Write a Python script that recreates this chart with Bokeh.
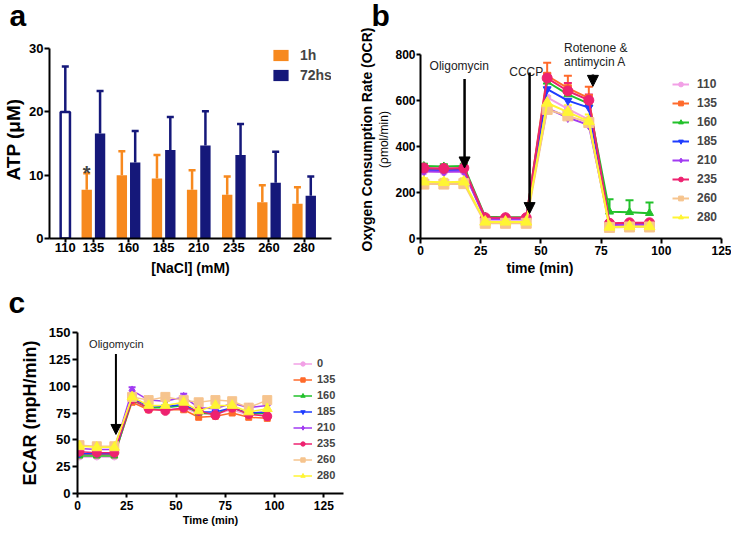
from bokeh.plotting import figure
from bokeh.models import (Range1d, FixedTicker, Legend, LegendItem, Title,
                          Whisker, TeeHead, Arrow, NormalHead, Label, ColumnDataSource)
from bokeh.layouts import column, row
from bokeh.embed import file_html
from bokeh.resources import INLINE

FONT = "Liberation Sans"

# ---------------- Panel a data ----------------
nacl = ["110", "135", "160", "185", "210", "235", "260", "280"]
atp_ctrl = [20.0]
atp_ctrl_err = [7.2]
atp_1h = [7.7, 10.0, 9.5, 7.7, 6.9, 5.75, 5.5]
atp_1h_err = [2.6, 3.8, 3.7, 3.1, 2.9, 2.65, 2.6]
atp_72h = [16.6, 12.0, 14.0, 14.7, 13.2, 8.8, 6.75]
atp_72h_err = [6.7, 5.0, 5.2, 5.4, 4.9, 4.9, 3.05]
star_group = "135"

# ---------------- Panel b data (OCR) ----------------
time_b = [1.4, 9.7, 18.0, 26.9, 35.3, 43.9, 52.6, 61.2, 69.9, 78.5, 86.8, 95.1]
ocr_110 = [290, 288, 290, 82, 82, 82, 612, 562, 516, 58, 60, 60]
ocr_135 = [302, 300, 302, 88, 88, 88, 706, 652, 609, 62, 64, 64]
ocr_160 = [314, 312, 314, 94, 92, 92, 680, 625, 585, 116, 114, 110]
ocr_185 = [296, 295, 297, 86, 86, 86, 648, 598, 568, 60, 62, 62]
ocr_210 = [292, 290, 292, 84, 84, 84, 565, 525, 492, 58, 60, 60]
ocr_235 = [306, 304, 306, 90, 90, 90, 696, 640, 600, 66, 68, 68]
ocr_260 = [236, 236, 238, 66, 66, 66, 560, 532, 503, 48, 50, 50]
ocr_280 = [246, 244, 246, 72, 72, 72, 588, 548, 508, 50, 52, 52]
ocr_err_135 = [10, 10, 10, 5, 5, 5, 57, 54, 49, 6, 6, 6]
ocr_err_160 = [10, 10, 10, 5, 5, 5, 25, 25, 25, 54, 52, 46]
ocr_err_235 = [10, 10, 10, 5, 5, 5, 20, 35, 25, 6, 6, 6]
ocr_err_280 = [15, 15, 15, 5, 5, 5, 30, 30, 30, 5, 5, 5]

# ---------------- Panel c data (ECAR) ----------------
time_c = [1.0, 9.8, 18.7, 27.7, 36.1, 44.6, 53.9, 61.5, 70.0, 78.5, 86.9, 96.3]
ecar_0 = [34, 34, 34, 87, 78, 78, 80, 74, 74, 78, 73, 74]
ecar_135 = [36, 36, 36, 85, 78, 78, 78, 71, 72, 75, 71, 70]
ecar_160 = [35, 35, 35, 87, 80, 80, 82, 75, 74, 80, 74, 75]
ecar_185 = [37, 37, 37, 88, 82, 81, 83, 76, 76, 80, 75, 76]
ecar_210 = [42, 41, 41, 96, 87, 86, 90, 80, 79, 84, 80, 82]
ecar_235 = [39, 38, 38, 88, 79, 77, 80, 77, 73, 80, 74, 72]
ecar_260 = [45, 44, 44, 90, 87, 90, 87, 85, 87, 86, 80, 87]
ecar_280 = [44, 43, 43, 90, 82, 82, 85, 77, 82, 82, 76, 79]
ecar_err_210 = [2, 2, 2, 3, 3, 3, 3, 3, 3, 3, 3, 3]
ecar_err_260 = [2, 2, 2, 3, 3, 3, 3, 3, 3, 3, 3, 3]

# ---------------- styles ----------------
ORANGE = "#F7891E"
NAVY = "#15187A"
series_style = {
    "110": ("#F2A0E6", "circle", 7),
    "135": ("#FF6A2B", "square", 7),
    "160": ("#22C12B", "triangle", 8),
    "185": ("#1E3CFF", "inverted_triangle", 8),
    "210": ("#A13BF2", "diamond", 10),
    "235": ("#EE2270", "circle", 10),
    "260": ("#F6C48E", "square", 10),
    "280": ("#FFF533", "triangle", 11),
}


def style_axis(ax, tick_size, label_size, label_style="bold"):
    ax.axis_line_width = 2
    ax.axis_line_color = "black"
    ax.major_tick_line_width = 2
    ax.major_tick_line_color = "black"
    ax.major_tick_out = 5
    ax.major_tick_in = 0
    ax.minor_tick_out = 0
    ax.minor_tick_line_color = None
    ax.major_label_text_font = FONT
    ax.major_label_text_font_style = "bold"
    ax.major_label_text_font_size = tick_size
    ax.major_label_text_color = "black"
    ax.major_label_standoff = 2
    ax.axis_label_text_font = FONT
    ax.axis_label_text_font_style = label_style
    ax.axis_label_text_font_size = label_size
    ax.axis_label_text_color = "black"
    ax.axis_label_standoff = 2


def spacer(size):
    return Title(text=" ", text_font=FONT, text_font_size="1px", standoff=size - 1)


def base_fig(fw, fh, xr, yr, l, r, t, b, letter, letter_offset, letter_standoff):
    p = figure(frame_width=fw, frame_height=fh, x_range=Range1d(*xr), y_range=Range1d(*yr),
               output_backend="svg", toolbar_location=None,
               min_border_left=l, min_border_right=r, min_border_top=t, min_border_bottom=b)
    p.outline_line_color = None
    p.xgrid.grid_line_color = None
    p.ygrid.grid_line_color = None
    p.background_fill_color = "white"
    p.border_fill_color = "white"
    p.title.text = letter
    p.title.align = "left"
    p.title.offset = letter_offset
    p.title.vertical_align = "top"
    p.title.standoff = letter_standoff
    p.title.text_font = FONT
    p.title.text_font_style = "bold"
    p.title.text_font_size = "30px"
    p.title.text_color = "black"
    return p


# ================= Panel a =================
pa = base_fig(282, 198, (-0.25, 7.78), (0, 31.3), 48, 25, 40, 42, "a", -40, -11)
pa.add_layout(spacer(10), "above")
ctrl_pos = 0.2
grp_pos = list(range(1, len(nacl)))
off = 0.19
bw = 0.295

x1h = [g - off for g in grp_pos]
x72 = [g + off for g in grp_pos]

src_ctrl = ColumnDataSource(dict(x=[ctrl_pos], top=atp_ctrl,
                                 hi=[v + e for v, e in zip(atp_ctrl, atp_ctrl_err)]))
src_1h = ColumnDataSource(dict(x=x1h, top=atp_1h,
                               hi=[v + e for v, e in zip(atp_1h, atp_1h_err)]))
src_72 = ColumnDataSource(dict(x=x72, top=atp_72h,
                               hi=[v + e for v, e in zip(atp_72h, atp_72h_err)]))

for src, col in ((src_ctrl, NAVY), (src_1h, ORANGE), (src_72, NAVY)):
    pa.add_layout(Whisker(source=src, base="x", upper="hi", lower="top", dimension="height",
                          line_color=col, line_width=2.5,
                          upper_head=TeeHead(size=7, line_color=col, line_width=2.5),
                          lower_head=None))

pa.vbar(x="x", top="top", width=bw - 0.03, source=src_ctrl, fill_color="white",
        line_color=NAVY, line_width=2.5)
b1 = pa.vbar(x="x", top="top", width=bw, source=src_1h, fill_color=ORANGE, line_color=None)
b72 = pa.vbar(x="x", top="top", width=bw, source=src_72, fill_color=NAVY, line_color=None)

pa.xaxis.ticker = FixedTicker(ticks=[ctrl_pos] + grp_pos)
pa.xaxis.major_label_overrides = {p_: lab for p_, lab in zip([ctrl_pos] + grp_pos, nacl)}
pa.yaxis.ticker = FixedTicker(ticks=[0, 10, 20, 30])
pa.yaxis.bounds = (0, 30)
style_axis(pa.xaxis[0], "13px", "14px")
style_axis(pa.yaxis[0], "13px", "19px")
pa.xaxis.axis_label = "[NaCl] (mM)"
pa.xaxis.major_tick_out = 4
pa.xaxis.major_label_standoff = 0
pa.xaxis.axis_label_standoff = 5
pa.yaxis.axis_label = "ATP (\u03bcM)"
pa.yaxis.major_label_standoff = 1
pa.yaxis.axis_label_standoff = 2

star_x = x1h[nacl.index(star_group) - 1]
pa.add_layout(Label(x=star_x, y=10.4, text="*", text_align="center", text_baseline="alphabetic",
                    text_font=FONT, text_font_style="bold", text_font_size="20px"))

lega = Legend(items=[LegendItem(label="1h", renderers=[b1]), LegendItem(label="72hs", renderers=[b72])],
              location=(222, 155), glyph_width=19, glyph_height=14, spacing=4, label_standoff=10,
              padding=0, margin=0, border_line_color=None, background_fill_alpha=0,
              label_text_font=FONT, label_text_font_style="bold", label_text_font_size="14px",
              label_height=14)
pa.add_layout(lega)

# ================= Panel b =================
pb = base_fig(301, 198, (0, 125), (0, 859), 54, 10, 40, 42, "b", -49, -11)
pb.add_layout(spacer(10), "above")

ocr = {"110": ocr_110, "135": ocr_135, "160": ocr_160, "185": ocr_185,
       "210": ocr_210, "235": ocr_235, "260": ocr_260, "280": ocr_280}
ocr_err = {"135": ocr_err_135, "160": ocr_err_160, "235": ocr_err_235, "280": ocr_err_280}

items_b = []
for key in nacl:
    col, mk, sz = series_style[key]
    ys = ocr[key]
    if key in ocr_err:
        es = ColumnDataSource(dict(x=time_b, y=ys, hi=[v + e for v, e in zip(ys, ocr_err[key])]))
        pb.add_layout(Whisker(source=es, base="x", upper="hi", lower="y", dimension="height",
                              line_color=col, line_width=2,
                              upper_head=TeeHead(size=8, line_color=col, line_width=2),
                              lower_head=None))
    ln = pb.line(time_b, ys, line_color=col, line_width=2)
    sc = pb.scatter(time_b, ys, marker=mk, size=sz, fill_color=col, line_color=col)
    items_b.append(LegendItem(label=key, renderers=[ln, sc]))

pb.xaxis.ticker = FixedTicker(ticks=[0, 25, 50, 75, 100, 125])
pb.yaxis.ticker = FixedTicker(ticks=[0, 200, 400, 600, 800])
pb.yaxis.bounds = (0, 800)
style_axis(pb.xaxis[0], "12px", "14px")
style_axis(pb.yaxis[0], "12px", "12px", label_style="normal")
pb.yaxis.major_tick_out = 4
pb.yaxis.major_label_standoff = 1
pb.yaxis.axis_label = "(\u03c1mol/min)"
pb.yaxis.axis_label_standoff = 1
pb.add_layout(Title(text="Oxygen Consumption Rate (OCR)", align="center", standoff=0,
                    text_font=FONT, text_font_style="bold", text_font_size="14px",
                    text_color="black"), "left")
pb.add_layout(Title(text="time (min)", align="left", offset=86, standoff=0, text_font=FONT,
                    text_font_style="bold", text_font_size="14px", text_color="black"), "below")

ann_font = dict(text_font=FONT, text_font_size="12px", text_color="#222222")
pb.add_layout(Label(x=16.1, y=749, text="Oligomycin", text_align="center", text_baseline="middle", **ann_font))
pb.add_layout(Label(x=43.9, y=724, text="CCCP", text_align="center", text_baseline="middle", **ann_font))
pb.add_layout(Label(x=59.6, y=827, text="Rotenone &", text_align="left", text_baseline="middle", **ann_font))
pb.add_layout(Label(x=59.6, y=764, text="antimycin A", text_align="left", text_baseline="middle", **ann_font))

for xs, y0, y1 in ((18.3, 692, 306), (45.3, 720, 108), (71.6, 712, 660)):
    pb.add_layout(Arrow(end=NormalHead(size=11, fill_color="black", line_color="black"),
                        x_start=xs, y_start=y0, x_end=xs, y_end=y1,
                        line_color="black", line_width=2.5))

legb = Legend(items=items_b, location=(252, 14), glyph_width=17, glyph_height=12, spacing=5,
              label_standoff=8, padding=0, margin=0, border_line_color=None, background_fill_alpha=0,
              label_text_font=FONT, label_text_font_style="bold", label_text_font_size="12px",
              label_height=12)
pb.add_layout(legb)

# ================= Panel c =================
pc = base_fig(266, 161, (0, 135), (0, 150), 77, 22, 52, 35, "c", -69, -11)
pc.add_layout(spacer(15), "above")
ecar_labels = ["0"] + nacl[1:]
ecar = [ecar_0, ecar_135, ecar_160, ecar_185, ecar_210, ecar_235, ecar_260, ecar_280]
ecar_err = {"210": ecar_err_210, "260": ecar_err_260}

items_c = []
for key, lab, ys in zip(nacl, ecar_labels, ecar):
    col, mk, sz = series_style[key]
    if key in ecar_err:
        es = ColumnDataSource(dict(x=time_c, y=ys, hi=[v + e for v, e in zip(ys, ecar_err[key])]))
        pc.add_layout(Whisker(source=es, base="x", upper="hi", lower="y", dimension="height",
                              line_color=col, line_width=2,
                              upper_head=TeeHead(size=7, line_color=col, line_width=2),
                              lower_head=None))
    ln = pc.line(time_c, ys, line_color=col, line_width=1.5)
    sc = pc.scatter(time_c, ys, marker=mk, size=sz - 1, fill_color=col, line_color=col)
    items_c.append(LegendItem(label=lab, renderers=[ln, sc]))

pc.xaxis.ticker = FixedTicker(ticks=[0, 25, 50, 75, 100, 125])
pc.yaxis.ticker = FixedTicker(ticks=[0, 25, 50, 75, 100, 125, 150])
style_axis(pc.xaxis[0], "12px", "11px")
style_axis(pc.yaxis[0], "13px", "18px")
pc.xaxis.major_tick_out = 4
pc.xaxis.major_label_standoff = 3
pc.xaxis.axis_label = "Time (min)"
pc.xaxis.axis_label_standoff = 1
pc.yaxis.axis_label = "ECAR (mpH/min)"
pc.yaxis.axis_label_standoff = 6

pc.add_layout(Label(x=19.7, y=139.6, text="Oligomycin", text_align="center", text_baseline="middle",
                    text_font=FONT, text_font_size="11px", text_color="#222222"))
pc.add_layout(Arrow(end=NormalHead(size=10, fill_color="black", line_color="black"),
                    x_start=19.5, y_start=130, x_end=19.5, y_end=55,
                    line_color="black", line_width=2))

legc = Legend(items=items_c, location=(216, 12), glyph_width=19, glyph_height=11, spacing=4,
              label_standoff=5, padding=0, margin=0, border_line_color=None, background_fill_alpha=0,
              label_text_font=FONT, label_text_font_style="bold", label_text_font_size="11px",
              label_height=11)
pc.add_layout(legc)

layout = column(row(pa, pb), pc)
open("out.html", "w").write(file_html(layout, INLINE))
